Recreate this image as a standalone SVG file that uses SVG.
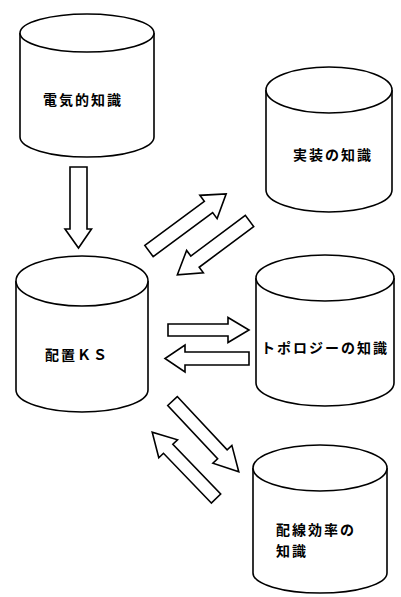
<svg xmlns="http://www.w3.org/2000/svg" width="401" height="597" viewBox="0 0 401 597">
<style>
.cyl{fill:#fff;stroke:#000;stroke-width:1.6}
.arr{fill:#fff;stroke:#000;stroke-width:1.6;stroke-linejoin:miter}
.lbl{font-family:"Noto Sans CJK JP","Noto Sans CJK SC",sans-serif;font-weight:bold;font-size:14px;letter-spacing:2px;fill:#000}
</style>
<rect width="401" height="597" fill="#fff"/>
<g id="n-denki">
<path class="cyl" d="M20,33 L20,137 A67,20 0 0 0 154,137 L154,33"/>
<ellipse class="cyl" cx="87" cy="33" rx="67" ry="19"/>
<text class="lbl" x="43" y="105">電気的知識</text>
</g>
<g id="n-haichi">
<path class="cyl" d="M16,281 L16,390 A66,22 0 0 0 148,390 L148,281"/>
<ellipse class="cyl" cx="82" cy="281" rx="66" ry="25"/>
<text class="lbl" x="45" y="360">配置ＫＳ</text>
</g>
<g id="n-jisso">
<path class="cyl" d="M266,90 L266,190 A63,22 0 0 0 392,190 L392,90"/>
<ellipse class="cyl" cx="329" cy="90" rx="63" ry="23"/>
<text class="lbl" x="293" y="160">実装の知識</text>
</g>
<g id="n-topology">
<path class="cyl" d="M256,278 L256,383 A69,23 0 0 0 394,383 L394,278"/>
<ellipse class="cyl" cx="325" cy="278" rx="69" ry="23"/>
<text class="lbl" x="261" y="353">トポロジーの知識</text>
</g>
<g id="n-haisen">
<path class="cyl" d="M253,468 L253,573 A67,20 0 0 0 387,573 L387,468"/>
<ellipse class="cyl" cx="320" cy="468" rx="67" ry="23"/>
<text class="lbl" x="276" y="535">配線効率の</text>
<text class="lbl" x="276" y="556">知識</text>
</g>
<g id="connectors">
<polygon class="arr" points="70,167 87,167 87,229 91.5,229 78.5,248 65,229 70,229"/>
<polygon class="arr" transform="translate(149,251) rotate(-36.5)" points="0,-7 74,-7 74,-14.5 96,0 74,14.5 74,7 0,7"/>
<polygon class="arr" transform="translate(249.5,221) rotate(143.3)" points="0,-7 68,-7 68,-14 90,0 68,14 68,7 0,7"/>
<polygon class="arr" transform="translate(168,330) rotate(0)" points="0,-6 60,-6 60,-12.5 81,0 60,12.5 60,6 0,6"/>
<polygon class="arr" transform="translate(249,358.5) rotate(180)" points="0,-6.5 64,-6.5 64,-13.5 84,0 64,13.5 64,6.5 0,6.5"/>
<polygon class="arr" transform="translate(172.5,401) rotate(46.9)" points="0,-6.5 73,-6.5 73,-13 97,0 73,13 73,6.5 0,6.5"/>
<polygon class="arr" transform="translate(216,498.5) rotate(-133.9)" points="0,-6.5 69,-6.5 69,-13 92,0 69,13 69,6.5 0,6.5"/>
</g>
</svg>
